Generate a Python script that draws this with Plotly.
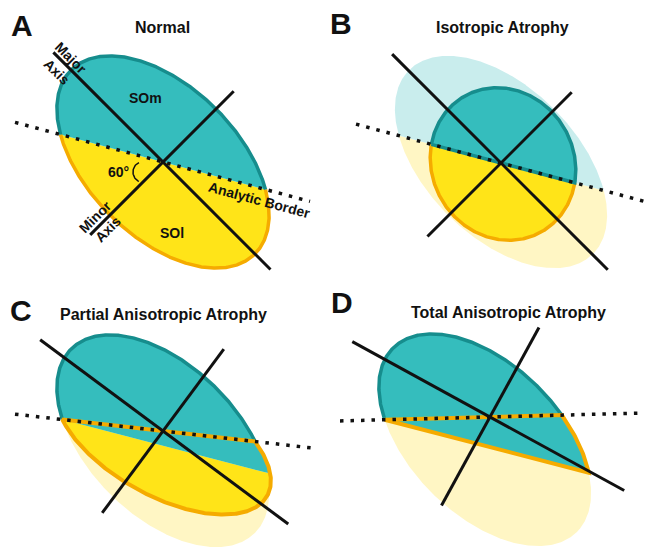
import numpy as np
import plotly.graph_objects as go

W, H = 646, 553

# ---------------- data / geometry parameters (pixel space, y downward) -------------
panel_letters = ["A", "B", "C", "D"]
letter_x = [22, 341, 21, 342]
letter_y = [25, 23, 310, 302]

panel_titles = ["Normal", "Isotropic Atrophy", "Partial Anisotropic Atrophy",
                "Total Anisotropic Atrophy"]
title_x = [162, 502, 163, 508]
title_y = [27, 27, 314, 312]

# normal (reference) ellipse
normal_semi_axes = [130, 75]
normal_tilt = 45
ellipse_cx = [163, 501, 163, 485]
ellipse_cy = [162, 162, 441, 440]

# major / minor axes
axes_cx = [163, 501, 163, 490]
axes_cy = [162, 163, 431, 417]
major_angle = [45, 45, 36.6, 28.7]
major_back = [155, 154, 153, 157]
major_fwd = [152, 151, 156, 153]
minor_up = [100, 100, 102, 102]
minor_down = [103, 104, 102, 101]

# analytic border
border_angle = [15, 15, 6.5, -1.5]
border_x0 = [15, 356, 15, 340]
border_x1 = [310, 645, 315, 641]

# B: isotropically atrophied ellipse
atrophy_center_B = [503, 164]
atrophy_semi_axes_B = [78, 71]
atrophy_tilt_B = 60

# C: compression of SOl and end of teal wedge
sol_compression_C = 0.70
wedge_end_C = [264, 472]
# D: end of collapsed SOl
wedge_end_D = [586, 472]

# labels in panel A
label_text = ["SOm", "SOl", "60°", "Major", "Axis", "Minor", "Axis", "Analytic Border"]
label_x = [145, 172, 118, 71, 57, 95, 108, 259]
label_y = [98, 233, 172, 58, 72, 217, 229, 200]
label_angle = [0, 0, 0, 45, 45, -45, -45, 15]
angle_arc = [142, 172, 9, 10]  # cx, cy, rx, ry of the 60° arc

# colours
TEAL = "#35bdbd"
TEAL_DARK = "#168d8d"
YELLOW = "#ffe418"
ORANGE = "#f5ab00"
TEAL_LIGHT = "#c9eded"
YELLOW_LIGHT = "#fff6c4"
BLACK = "#111111"
FONT = "Liberation Sans, Arial, sans-serif"

fig = go.Figure()


# ---------------- helpers ----------------
def ell_xy(cx, cy, a, b, tilt, t):
    th = np.radians(tilt)
    ct, st = np.cos(th), np.sin(th)
    x = cx + a * np.cos(t) * ct - b * np.sin(t) * st
    y = cy + a * np.cos(t) * st + b * np.sin(t) * ct
    return x, y


def ell_poly(cx, cy, a, b, tilt, n=400):
    t = np.linspace(0, 2 * np.pi, n, endpoint=False)
    return ell_xy(cx, cy, a, b, tilt, t)


def side_fn(x0, y0, ang):
    th = np.radians(ang)
    s, c = np.sin(th), np.cos(th)
    return lambda x, y: (np.asarray(y, float) - y0) * c - (np.asarray(x, float) - x0) * s


def ell_arc(cx, cy, a, b, tilt, f, below, n=300):
    t = np.linspace(0, 2 * np.pi, 3601)
    x, y = ell_xy(cx, cy, a, b, tilt, t)
    g = f(x, y)
    idx = np.where(np.sign(g[:-1]) != np.sign(g[1:]))[0]
    roots = []
    for i in idx[:2]:
        r = g[i] / (g[i] - g[i + 1])
        roots.append(t[i] + r * (t[i + 1] - t[i]))
    r1, r2 = roots
    gm = f(*ell_xy(cx, cy, a, b, tilt, 0.5 * (r1 + r2)))
    if (gm > 0) == below:
        ts = np.linspace(r1, r2, n)
    else:
        ts = np.linspace(r2, r1 + 2 * np.pi, n)
    return ell_xy(cx, cy, a, b, tilt, ts)


def clip(xs, ys, f, keep_below):
    sgn = 1.0 if keep_below else -1.0
    ox, oy = [], []
    n = len(xs)
    for i in range(n):
        px, py = xs[i], ys[i]
        qx, qy = xs[(i + 1) % n], ys[(i + 1) % n]
        fp, fq = sgn * f(px, py), sgn * f(qx, qy)
        if fp >= 0:
            ox.append(px); oy.append(py)
        if (fp >= 0) != (fq >= 0):
            r = fp / (fp - fq)
            ox.append(px + r * (qx - px)); oy.append(py + r * (qy - py))
    return np.array(ox), np.array(oy)


def fill(xs, ys, color):
    xs = list(xs) + [xs[0]]
    ys = list(ys) + [ys[0]]
    fig.add_trace(go.Scatter(x=xs, y=ys, mode="lines", fill="toself", fillcolor=color,
                             line=dict(width=0, color=color), hoverinfo="skip",
                             showlegend=False))


def stroke(xs, ys, color, width, closed=False, dash="solid"):
    xs, ys = list(xs), list(ys)
    if closed:
        xs.append(xs[0]); ys.append(ys[0])
    fig.add_trace(go.Scatter(x=xs, y=ys, mode="lines",
                             line=dict(width=width, color=color, dash=dash),
                             hoverinfo="skip", showlegend=False))


def border_line(i):
    th = np.radians(border_angle[i])
    xs = np.array([border_x0[i], border_x1[i]], float)
    ys = axes_cy[i] + (xs - axes_cx[i]) * np.tan(th)
    stroke(xs, ys, BLACK, 3.5, dash="3.5px,7px")


def axes_lines(i):
    th = np.radians(major_angle[i])
    c, s = np.cos(th), np.sin(th)
    cx, cy = axes_cx[i], axes_cy[i]
    stroke([cx - major_back[i] * c, cx + major_fwd[i] * c],
           [cy - major_back[i] * s, cy + major_fwd[i] * s], BLACK, 3)
    stroke([cx + minor_up[i] * s, cx - minor_down[i] * s],
           [cy - minor_up[i] * c, cy + minor_down[i] * c], BLACK, 3)


A_, B_ = normal_semi_axes

# ---------------- Panel A ----------------
fA = side_fn(axes_cx[0], axes_cy[0], border_angle[0])
e = (ellipse_cx[0], ellipse_cy[0], A_, B_, normal_tilt)
yx, yy = ell_arc(*e, fA, below=True)
tx, ty = ell_arc(*e, fA, below=False)
fill(yx, yy, YELLOW)
fill(tx, ty, TEAL)
stroke(yx, yy, ORANGE, 3.5)
stroke(tx, ty, TEAL_DARK, 3.5)
border_line(0)
axes_lines(0)
ta = np.radians(np.linspace(250, 110, 40))
stroke(angle_arc[0] + angle_arc[2] * np.cos(ta), angle_arc[1] + angle_arc[3] * np.sin(ta),
       BLACK, 1.5)

# ---------------- Panel B ----------------
fB = side_fn(axes_cx[1], axes_cy[1], border_angle[1])
e = (ellipse_cx[1], ellipse_cy[1], A_, B_, normal_tilt)
fx, fy = ell_arc(*e, fB, below=True)
fill(fx, fy, YELLOW_LIGHT)
fx, fy = ell_arc(*e, fB, below=False)
fill(fx, fy, TEAL_LIGHT)
ei = (atrophy_center_B[0], atrophy_center_B[1], atrophy_semi_axes_B[0],
      atrophy_semi_axes_B[1], atrophy_tilt_B)
yx, yy = ell_arc(*ei, fB, below=True)
tx, ty = ell_arc(*ei, fB, below=False)
fill(yx, yy, YELLOW)
stroke(yx, yy, ORANGE, 3.5)
fill(tx, ty, TEAL)
stroke(tx, ty, TEAL_DARK, 3.5, closed=True)
border_line(1)
axes_lines(1)

# ---------------- Panel C ----------------
fC = side_fn(axes_cx[2], axes_cy[2], border_angle[2])
e = (ellipse_cx[2], ellipse_cy[2], A_, B_, normal_tilt)
fx, fy = ell_arc(*e, fC, below=True)
fill(fx, fy, YELLOW_LIGHT)
# compressed SOl
thC = np.radians(border_angle[2])
nx, ny = -np.sin(thC), np.cos(thC)
g = fC(fx, fy)
sx = fx - (1 - sol_compression_C) * g * nx
sy = fy - (1 - sol_compression_C) * g * ny
if sx[0] < sx[-1]:
    Lx, Ly = sx[0], sy[0]
else:
    Lx, Ly = sx[-1], sy[-1]
angLP = np.degrees(np.arctan2(wedge_end_C[1] - Ly, wedge_end_C[0] - Lx))
fLP = side_fn(Lx, Ly, angLP)
yx, yy = clip(sx, sy, fLP, keep_below=True)
wx, wy = clip(sx, sy, fLP, keep_below=False)
tx, ty = ell_arc(*e, fC, below=False)
fill(tx, ty, TEAL)
fill(yx, yy, YELLOW)
fill(wx, wy, TEAL)
stroke(tx, ty, TEAL_DARK, 3.5)
stroke(sx, sy, ORANGE, 4, closed=True)
border_line(2)
axes_lines(2)

# ---------------- Panel D ----------------
fD = side_fn(axes_cx[3], axes_cy[3], border_angle[3])
e = (ellipse_cx[3], ellipse_cy[3], A_, B_, normal_tilt)
px, py = ell_poly(*e)
fill(px, py, YELLOW_LIGHT)
ax_, ay_ = ell_arc(*e, fD, below=False)
if ax_[0] < ax_[-1]:
    Lx, Ly = ax_[0], ay_[0]
else:
    Lx, Ly = ax_[-1], ay_[-1]
angLP = np.degrees(np.arctan2(wedge_end_D[1] - Ly, wedge_end_D[0] - Lx))
fLP = side_fn(Lx, Ly, angLP)
tx, ty = clip(px, py, fLP, keep_below=False)
fill(tx, ty, TEAL)
stroke(ax_, ay_, TEAL_DARK, 3.5)
bx, by = clip(px, py, fD, keep_below=True)
ox, oy = clip(bx, by, fLP, keep_below=False)
stroke(ox, oy, ORANGE, 4, closed=True)
border_line(3)
axes_lines(3)

# ---------------- text ----------------
ann = []
for i in range(4):
    ann.append(dict(x=letter_x[i], y=letter_y[i], text=panel_letters[i], showarrow=False,
                    xref="x", yref="y", font=dict(family=FONT, size=30, color=BLACK,
                                                  weight="bold")))
    ann.append(dict(x=title_x[i], y=title_y[i], text=panel_titles[i], showarrow=False,
                    xref="x", yref="y", font=dict(family=FONT, size=16, color=BLACK,
                                                  weight="bold")))
for t, x, y, a in zip(label_text, label_x, label_y, label_angle):
    ann.append(dict(x=x, y=y, text=t, showarrow=False, textangle=a, xref="x", yref="y",
                    font=dict(family=FONT, size=14, color=BLACK, weight="bold")))

fig.update_layout(
    width=W, height=H, margin=dict(l=0, r=0, t=0, b=0),
    paper_bgcolor="white", plot_bgcolor="white",
    xaxis=dict(range=[0, W], visible=False, fixedrange=True),
    yaxis=dict(range=[H, 0], visible=False, fixedrange=True),
    annotations=ann, showlegend=False,
)
fig.write_html("out.html", config={"displayModeBar": False},
               post_script="document.body.style.margin='0';document.body.style.overflow='hidden';")
